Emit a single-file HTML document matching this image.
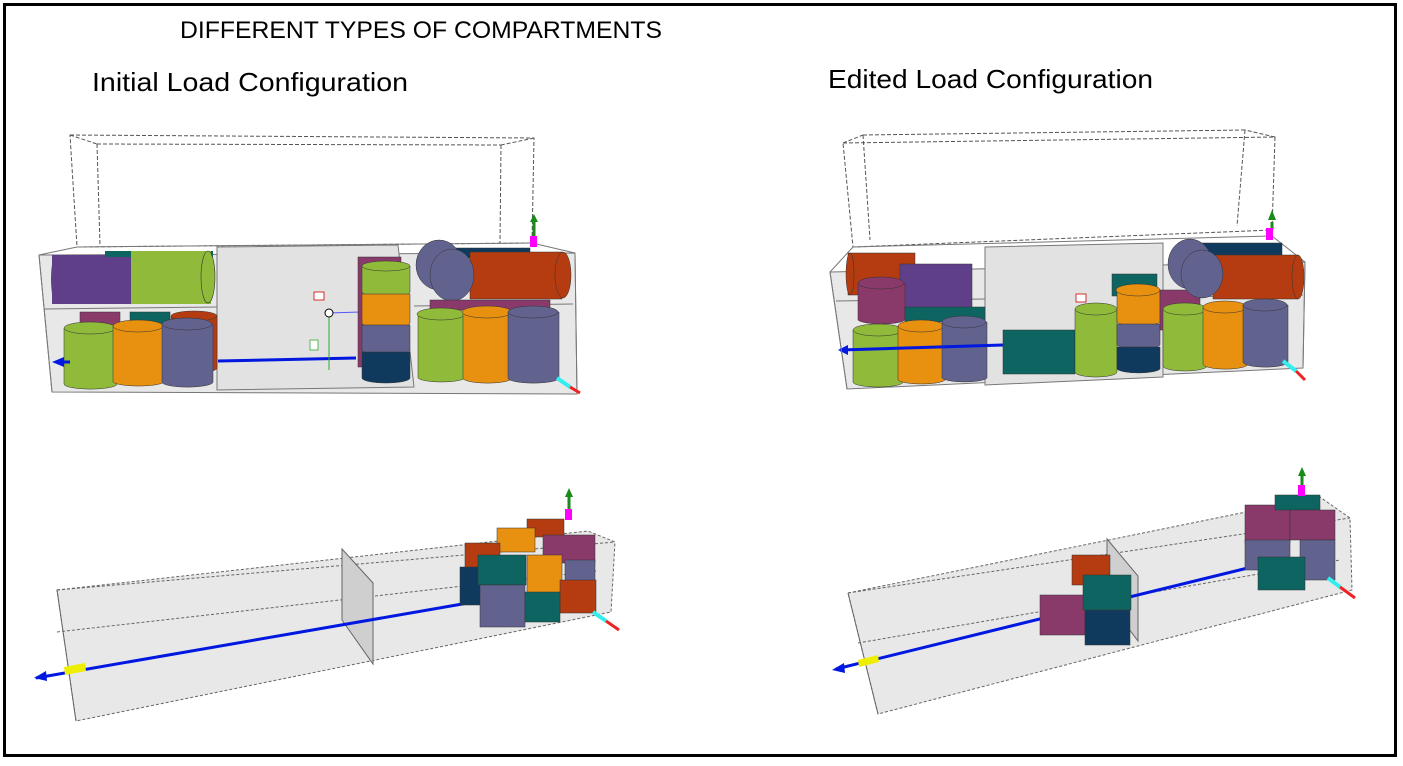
<!DOCTYPE html>
<html><head><meta charset="utf-8"><style>
html,body{margin:0;padding:0;background:#fff;}
svg{display:block;font-family:"Liberation Sans",sans-serif;}
</style></head><body>
<svg width="1403" height="766" viewBox="0 0 1403 766" xmlns="http://www.w3.org/2000/svg">
<rect x="0" y="0" width="1403" height="766" fill="#fff"/>
<rect x="4.5" y="4.5" width="1391" height="751" fill="none" stroke="#000" stroke-width="3"/>
<text x="180" y="38" font-size="24" fill="#000" textLength="482" lengthAdjust="spacingAndGlyphs">DIFFERENT TYPES OF COMPARTMENTS</text>
<text x="92" y="91" font-size="26" fill="#000" textLength="316" lengthAdjust="spacingAndGlyphs">Initial Load Configuration</text>
<text x="828" y="88" font-size="26" fill="#000" textLength="325" lengthAdjust="spacingAndGlyphs">Edited Load Configuration</text>

<!-- ===== TOP LEFT ===== -->
<g stroke="#555" stroke-width="1" fill="none" stroke-dasharray="4,2">
<polygon points="70,135 534,138 532,243 77,247"/>
<line x1="97" y1="144" x2="501" y2="145"/><line x1="70" y1="135" x2="97" y2="144"/><line x1="534" y1="138" x2="501" y2="145"/>
<line x1="97" y1="144" x2="100" y2="245"/><line x1="501" y1="145" x2="500" y2="243"/>
</g>
<polygon points="39,255 575,253 577,394 52,392" fill="#e8e8e8" stroke="#777"/>
<polygon points="217,247 398,245 414,387 217,390" fill="#e2e2e2" stroke="#777"/>
<line x1="44" y1="309" x2="217" y2="307" stroke="#777"/><line x1="414" y1="306" x2="573" y2="304" stroke="#777"/>
<line x1="39" y1="255" x2="77" y2="247" stroke="#777"/><line x1="575" y1="253" x2="532" y2="243" stroke="#777"/>
<line x1="77" y1="247" x2="532" y2="243" stroke="#777"/>
<rect x="52" y="255" width="83" height="49" fill="#5f3f8a"/><ellipse cx="56" cy="279" rx="5" ry="24" fill="#5f3f8a"/>
<rect x="105" y="251" width="108" height="6" fill="#0d6460"/>
<rect x="131" y="251" width="80" height="53" fill="#8fba3a"/><ellipse cx="208" cy="277" rx="7" ry="26" fill="#8fba3a" stroke="#333" stroke-width=".6"/>
<g stroke="#333" stroke-width=".5">
<rect x="80" y="312" width="40" height="20" fill="#8a3a6a"/><rect x="130" y="312" width="40" height="20" fill="#0d6460"/>
<path d="M171 316 V368 A23 5 0 0 0 217 368 V316Z" fill="#b53c10"/><ellipse cx="194" cy="316" rx="23" ry="5" fill="#b53c10"/>
<path d="M64 328 V384 A26 5 0 0 0 117 384 V328Z" fill="#8fba3a"/><ellipse cx="90" cy="328" rx="26" ry="6" fill="#8fba3a"/>
<path d="M113 326 V382 A26 5 0 0 0 164 382 V326Z" fill="#e8900f"/><ellipse cx="138" cy="326" rx="25" ry="6" fill="#e8900f"/>
<path d="M162 324 V382 A25 5 0 0 0 213 382 V324Z" fill="#62628f"/><ellipse cx="187" cy="324" rx="25" ry="6" fill="#62628f"/>
</g>
<line x1="218" y1="361" x2="356" y2="358" stroke="#0018e0" stroke-width="3"/>
<polygon points="52,362 64,357 64,367" fill="#0018e0"/><line x1="64" y1="362" x2="70" y2="362" stroke="#0018e0" stroke-width="3"/>
<line x1="329" y1="316" x2="329" y2="370" stroke="#3a3"/><line x1="329" y1="313" x2="360" y2="312" stroke="#55f"/>
<circle cx="329" cy="313" r="4" fill="#fff" stroke="#000"/>
<rect x="314" y="292" width="10" height="8" fill="#fff" stroke="#c00" stroke-width=".8"/>
<rect x="310" y="340" width="8" height="10" fill="#fff" stroke="#3a3" stroke-width=".8"/>
<g stroke="#333" stroke-width=".5">
<rect x="358" y="257" width="43" height="110" fill="#8a3a6a"/>
<path d="M362 266 V292 A24 5 0 0 0 410 292 V266Z" fill="#8fba3a"/><ellipse cx="386" cy="266" rx="24" ry="5" fill="#8fba3a"/>
<path d="M362 294 V323 A24 5 0 0 0 410 323 V294Z" fill="#e8900f"/>
<path d="M362 325 V350 A24 5 0 0 0 410 350 V325Z" fill="#62628f"/>
<path d="M362 352 V378 A24 5 0 0 0 410 378 V352Z" fill="#0f3a5e"/>
</g>
<g stroke="#333" stroke-width=".5">
<rect x="440" y="248" width="90" height="10" fill="#0f3a5e"/>
<rect x="470" y="252" width="92" height="47" fill="#b53c10"/><ellipse cx="563" cy="275" rx="8" ry="23" fill="#b53c10"/>
<ellipse cx="439" cy="265" rx="23" ry="25" fill="#62628f"/><ellipse cx="452" cy="275" rx="22" ry="26" fill="#62628f"/>
<rect x="430" y="300" width="120" height="10" fill="#8a3a6a"/>
<path d="M418 314 V378 A24 5 0 0 0 465 378 V314Z" fill="#8fba3a"/><ellipse cx="441" cy="314" rx="24" ry="6" fill="#8fba3a"/>
<path d="M463 312 V378 A24 5 0 0 0 512 378 V312Z" fill="#e8900f"/><ellipse cx="487" cy="312" rx="25" ry="6" fill="#e8900f"/>
<path d="M508 312 V378 A25 5 0 0 0 559 378 V312Z" fill="#62628f"/><ellipse cx="533" cy="312" rx="25" ry="6" fill="#62628f"/>
</g>
<line x1="39" y1="255" x2="52" y2="392" stroke="#777"/><line x1="575" y1="253" x2="577" y2="394" stroke="#777"/>
<line x1="534" y1="222" x2="534" y2="237" stroke="#1a8a1a" stroke-width="3"/><polygon points="534,214 530,222 538,222" fill="#1a8a1a"/>
<rect x="530" y="236" width="7" height="11" fill="#f0f"/>
<line x1="557" y1="378" x2="570" y2="387" stroke="#3ee" stroke-width="4"/><line x1="570" y1="387" x2="580" y2="393" stroke="#e22" stroke-width="3"/>

<!-- ===== BOTTOM LEFT ===== -->
<polygon points="57,590 588,531 615,542 611,612 76,721" fill="#e8e8e8" stroke="#666" stroke-dasharray="3,2"/>
<line x1="57" y1="590" x2="615" y2="542" stroke="#666" stroke-dasharray="3,2"/>
<line x1="57" y1="632" x2="596" y2="571" stroke="#666" stroke-dasharray="3,2"/>
<line x1="57" y1="590" x2="76" y2="721" stroke="#666"/>
<polygon points="342,549 373,583 373,664 342,620" fill="#cfcfcf" stroke="#666"/>
<line x1="36" y1="678" x2="468" y2="603" stroke="#0018e0" stroke-width="3"/>
<polygon points="34,678 46,671 47,681" fill="#0018e0"/>
<polygon points="64,667 85,663 86,671 65,675" fill="#ee0"/>
<g stroke="#333" stroke-width=".5">
<rect x="527" y="519" width="37" height="18" fill="#b53c10"/>
<rect x="497" y="528" width="38" height="24" fill="#e8900f"/>
<rect x="543" y="535" width="52" height="28" fill="#8a3a6a"/>
<rect x="465" y="543" width="35" height="25" fill="#b53c10"/>
<rect x="460" y="567" width="20" height="38" fill="#0f3a5e"/>
<rect x="478" y="555" width="48" height="30" fill="#0d6460"/>
<rect x="527" y="555" width="35" height="38" fill="#e8900f"/>
<rect x="565" y="560" width="30" height="22" fill="#62628f"/>
<rect x="560" y="580" width="36" height="33" fill="#b53c10"/>
<rect x="480" y="585" width="45" height="42" fill="#62628f"/>
<rect x="525" y="592" width="35" height="30" fill="#0d6460"/>
</g>
<line x1="569" y1="496" x2="569" y2="510" stroke="#1a8a1a" stroke-width="3"/><polygon points="569,488 565,497 573,497" fill="#1a8a1a"/>
<rect x="565" y="509" width="7" height="11" fill="#f0f"/>
<line x1="593" y1="612" x2="606" y2="621" stroke="#3ee" stroke-width="4"/><line x1="606" y1="621" x2="619" y2="630" stroke="#e22" stroke-width="3"/>

<!-- ===== TOP RIGHT ===== -->
<g stroke="#555" stroke-width="1" fill="none" stroke-dasharray="4,2">
<polygon points="843,143 1275,137 1272,230 853,247"/>
<line x1="863" y1="135" x2="1245" y2="130"/><line x1="843" y1="143" x2="863" y2="135"/><line x1="1275" y1="137" x2="1245" y2="130"/>
<line x1="863" y1="135" x2="870" y2="240"/><line x1="1245" y1="130" x2="1237" y2="226"/>
</g>
<polygon points="830,272 1305,262 1303,368 847,389" fill="#e8e8e8" stroke="#777"/>
<polygon points="985,247 1163,243 1163,377 985,385" fill="#e2e2e2" stroke="#777"/>
<line x1="853" y1="247" x2="1272" y2="236" stroke="#777"/>
<line x1="830" y1="272" x2="853" y2="247" stroke="#777"/><line x1="1305" y1="262" x2="1272" y2="236" stroke="#777"/>
<line x1="836" y1="301" x2="985" y2="299" stroke="#777"/><line x1="1163" y1="297" x2="1303" y2="295" stroke="#777"/>
<g stroke="#333" stroke-width=".5">
<rect x="848" y="253" width="67" height="42" fill="#b53c10"/><ellipse cx="850" cy="274" rx="4" ry="21" fill="#b53c10"/>
<rect x="900" y="264" width="72" height="44" fill="#5f3f8a"/>
<path d="M858 283 V320 A24 5 0 0 0 905 320 V283Z" fill="#8a3a6a"/><ellipse cx="881" cy="283" rx="23" ry="6" fill="#8a3a6a"/>
<rect x="905" y="307" width="80" height="15" fill="#0d6460"/>
<path d="M853 330 V382 A25 5 0 0 0 903 382 V330Z" fill="#8fba3a"/><ellipse cx="878" cy="330" rx="25" ry="6" fill="#8fba3a"/>
<path d="M898 326 V380 A24 5 0 0 0 945 380 V326Z" fill="#e8900f"/><ellipse cx="921" cy="326" rx="23" ry="6" fill="#e8900f"/>
<path d="M942 322 V378 A23 5 0 0 0 987 378 V322Z" fill="#62628f"/><ellipse cx="964" cy="322" rx="22" ry="6" fill="#62628f"/>
</g>
<line x1="840" y1="350" x2="1003" y2="345" stroke="#0018e0" stroke-width="3"/>
<polygon points="838,350 848,345 848,355" fill="#0018e0"/>
<g stroke="#333" stroke-width=".5">
<rect x="1003" y="330" width="72" height="44" fill="#0d6460"/>
<path d="M1075 309 V372 A21 5 0 0 0 1117 372 V309Z" fill="#8fba3a"/><ellipse cx="1096" cy="309" rx="21" ry="6" fill="#8fba3a"/>
<rect x="1112" y="274" width="45" height="22" fill="#0d6460"/>
<path d="M1117 290 V322 A22 5 0 0 0 1160 322 V290Z" fill="#e8900f"/><ellipse cx="1138" cy="290" rx="22" ry="6" fill="#e8900f"/>
<path d="M1117 324 V345 A22 5 0 0 0 1160 345 V324Z" fill="#62628f"/>
<path d="M1117 347 V369 A22 5 0 0 0 1160 369 V347Z" fill="#0f3a5e"/>
<rect x="1160" y="290" width="40" height="40" fill="#8a3a6a"/>
<rect x="1200" y="243" width="82" height="15" fill="#0f3a5e"/>
<rect x="1213" y="255" width="85" height="44" fill="#b53c10"/><ellipse cx="1298" cy="277" rx="6" ry="22" fill="#b53c10"/>
<ellipse cx="1190" cy="264" rx="22" ry="25" fill="#62628f"/><ellipse cx="1202" cy="274" rx="21" ry="24" fill="#62628f"/>
<path d="M1163 309 V366 A22 5 0 0 0 1207 366 V309Z" fill="#8fba3a"/><ellipse cx="1185" cy="309" rx="22" ry="6" fill="#8fba3a"/>
<path d="M1203 307 V364 A22 5 0 0 0 1248 364 V307Z" fill="#e8900f"/><ellipse cx="1225" cy="307" rx="22" ry="6" fill="#e8900f"/>
<path d="M1243 305 V362 A22 5 0 0 0 1288 362 V305Z" fill="#62628f"/><ellipse cx="1265" cy="305" rx="22" ry="6" fill="#62628f"/>
</g>
<rect x="1076" y="294" width="10" height="8" fill="#fff" stroke="#c00" stroke-width=".8"/>
<line x1="830" y1="272" x2="847" y2="389" stroke="#777"/><line x1="1305" y1="262" x2="1303" y2="368" stroke="#777"/>
<line x1="1272" y1="222" x2="1272" y2="230" stroke="#1a8a1a" stroke-width="3"/><polygon points="1272,210 1268,220 1276,220" fill="#1a8a1a"/>
<rect x="1266" y="228" width="7" height="12" fill="#f0f"/>
<line x1="1283" y1="361" x2="1296" y2="371" stroke="#3ee" stroke-width="4"/><line x1="1296" y1="371" x2="1305" y2="380" stroke="#e22" stroke-width="3"/>

<!-- ===== BOTTOM RIGHT ===== -->
<polygon points="848,593 1320,497 1350,518 1352,590 878,714" fill="#e8e8e8" stroke="#666" stroke-dasharray="3,2"/>
<line x1="848" y1="593" x2="1350" y2="518" stroke="#666" stroke-dasharray="3,2"/>
<line x1="858" y1="643" x2="1340" y2="560" stroke="#666" stroke-dasharray="3,2"/>
<line x1="848" y1="593" x2="878" y2="714" stroke="#666"/>
<polygon points="1107,539 1138,576 1138,641 1107,600" fill="#cfcfcf" stroke="#666"/>
<line x1="836" y1="669" x2="1260" y2="565" stroke="#0018e0" stroke-width="3"/>
<polygon points="832,670 844,663 845,673" fill="#0018e0"/>
<polygon points="858,660 878,655 879,662 859,667" fill="#ee0"/>
<g stroke="#333" stroke-width=".5">
<rect x="1040" y="595" width="45" height="40" fill="#8a3a6a"/>
<rect x="1072" y="555" width="38" height="30" fill="#b53c10"/>
<rect x="1085" y="610" width="45" height="35" fill="#0f3a5e"/>
<rect x="1083" y="575" width="48" height="35" fill="#0d6460"/>
<rect x="1245" y="505" width="45" height="38" fill="#8a3a6a"/>
<rect x="1275" y="495" width="45" height="15" fill="#0d6460"/>
<rect x="1290" y="510" width="45" height="30" fill="#8a3a6a"/>
<rect x="1245" y="540" width="45" height="30" fill="#62628f"/>
<rect x="1300" y="540" width="35" height="40" fill="#62628f"/>
<rect x="1258" y="557" width="47" height="33" fill="#0d6460"/>
</g>
<line x1="1302" y1="475" x2="1302" y2="486" stroke="#1a8a1a" stroke-width="3"/><polygon points="1302,467 1298,476 1306,476" fill="#1a8a1a"/>
<rect x="1298" y="485" width="7" height="11" fill="#f0f"/>
<line x1="1328" y1="578" x2="1340" y2="587" stroke="#3ee" stroke-width="4"/><line x1="1340" y1="587" x2="1355" y2="598" stroke="#e22" stroke-width="3"/>
</svg>
</body></html>
